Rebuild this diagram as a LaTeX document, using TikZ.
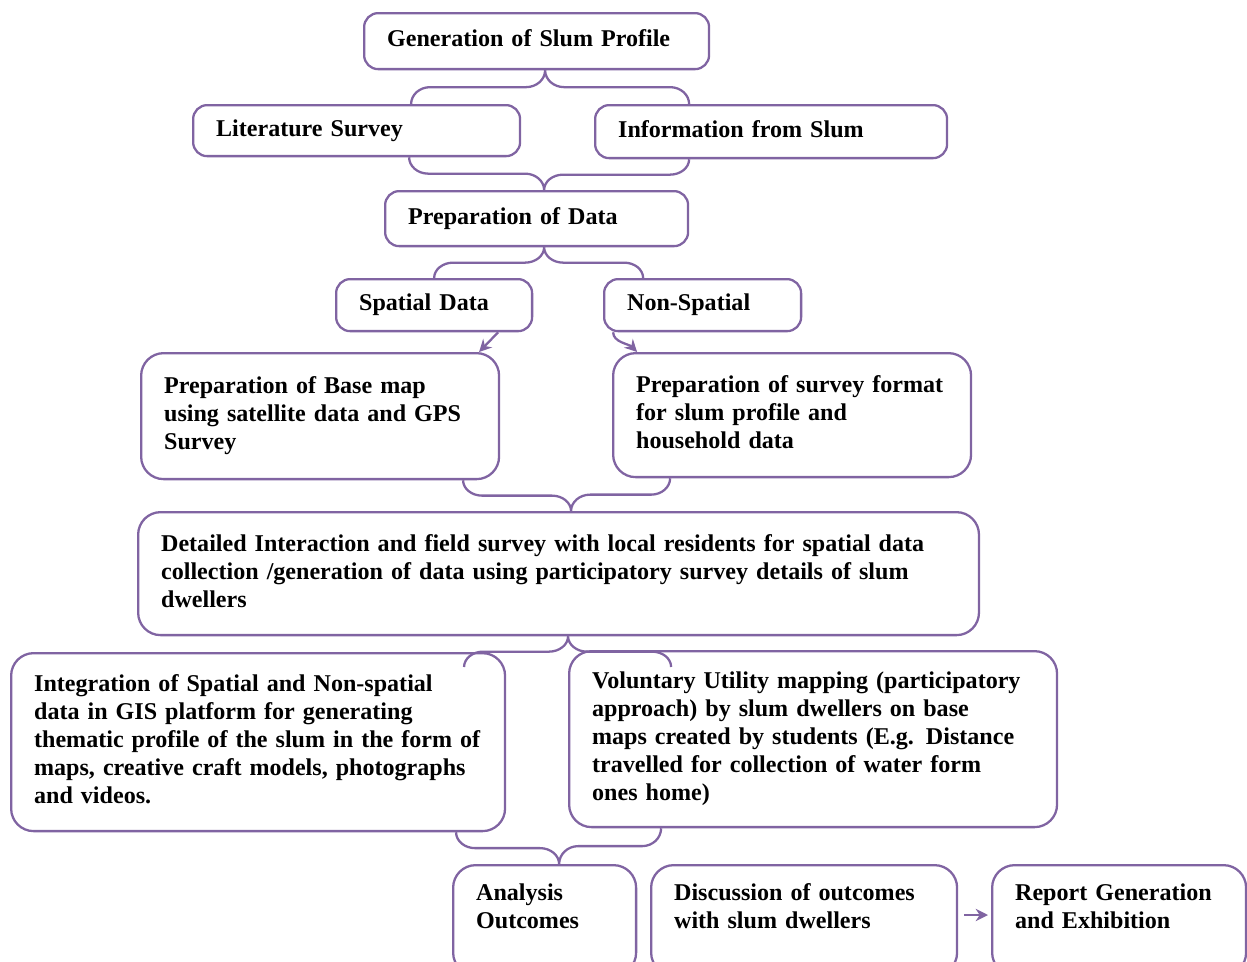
\documentclass[tikz,border=0pt]{standalone}
\usepackage{fontspec}
\setmainfont{Liberation Serif}
\usetikzlibrary{arrows.meta,calc,positioning}

\definecolor{slumpurple}{RGB}{128,100,162}

% lines of a box, never broken by TeX
\newcommand{\lns}[1]{\begin{tabular}{@{}l@{}}#1\end{tabular}}

\tikzset{
  box/.style={draw=slumpurple, line width=1.3pt, rounded corners=0.28cm, anchor=north west,
    align=left, inner xsep=0.46cm, inner ysep=0pt, font=\fontsize{13.7}{16}\selectfont\bfseries},
  tallbox/.style={box, rounded corners=0.45cm},
  brace/.style={draw=slumpurple, line width=1.3pt},
  arr/.style={draw=slumpurple, line width=1.3pt, -{Stealth[length=7pt,width=7pt]}},
  halfbrace/.style={to path={
    ($(\tikztostart)!0.5!(\tikztotarget)$) coordinate (hb)
    (\tikztostart |- hb) coordinate (hb1)
    (\tikztotarget |- hb) coordinate (hb2)
    ($(hb1)!0.38cm!(hb2)$) coordinate (hb3)
    ($(hb2)!0.38cm!(hb1)$) coordinate (hb4)
    (\tikztostart) .. controls ($(\tikztostart)!0.55!(hb1)$) and ($(hb3)!0.55!(hb1)$) .. (hb3)
    -- (hb4) .. controls ($(hb4)!0.55!(hb2)$) and ($(\tikztotarget)!0.55!(hb2)$) .. (\tikztotarget)}},
}

\begin{document}
\begin{tikzpicture}[x=0.02cm, y=-0.02cm]
\useasboundingbox (0,0) rectangle (1247,961);
\clip (0,0) rectangle (1247,961);

% Top part
\node[box, text width=5.98cm, minimum height=1.12cm] (gen) at (363,12) {\lns{Generation of Slum Profile}};
\node[box, text width=5.62cm, minimum height=1.02cm] (lit) at (192,104) {\lns{Literature Survey}};
\node[box, text width=6.12cm, minimum height=1.06cm] (info) at (594,104) {\lns{Information from Slum}};
\node[box, text width=5.14cm, minimum height=1.1cm] (prep) at (384,190) {\lns{Preparation of Data}};
\node[box, text width=3cm, minimum height=1.04cm] (spatial) at (335,278) {\lns{Spatial Data}};
\node[box, text width=3.02cm, minimum height=1.04cm] (nonsp) at (603,278) {\lns{Non-Spatial}};

% Preparation boxes
\node[tallbox, text width=6.24cm, minimum height=2.52cm] (basemap) at (140,352)
  {\lns{Preparation of Base map\\using satellite data and GPS\\Survey}};
\node[tallbox, text width=6.24cm, minimum height=2.48cm] (survey) at (612,352)
  {\lns{Preparation of survey format\\for slum profile and\\household data}};
\node[tallbox, text width=15.9cm, minimum height=2.46cm] (detail) at (137,511)
  {\lns{Detailed Interaction and field survey with local residents for spatial data\\collection /generation of data using participatory survey details of slum\\dwellers}};

% Mapping boxes
\node[tallbox, text width=8.96cm, minimum height=3.56cm] (integ) at (10,652)
  {\lns{Integration of Spatial and Non-spatial\\data in GIS platform for generating\\thematic profile of the slum in the form of\\maps, creative craft models, photographs\\and videos.}};
\node[tallbox, text width=8.84cm, minimum height=3.52cm] (volun) at (568,650)
  {\lns{Voluntary Utility mapping (participatory\\approach) by slum dwellers on base\\maps created by students (E.g. Distance\\travelled for collection of water form\\ones home)}};

% Bottom row
\node[tallbox, text width=2.74cm, minimum height=2.2cm] (analysis) at (452,864) {\lns{Analysis\\Outcomes\\[0.44cm]}};
\node[tallbox, text width=5.2cm, minimum height=2.2cm] (discuss) at (650,864) {\lns{Discussion of outcomes\\with slum dwellers\\[0.44cm]}};
\node[tallbox, text width=4.16cm, minimum height=2.2cm] (report) at (991,864) {\lns{Report Generation\\and Exhibition\\[0.44cm]}};

% Brace ends
\coordinate (gen-b) at ([xshift=0.17cm]gen.south);
\coordinate (lit-t) at ([xshift=1.09cm]lit.north);
\coordinate (info-t) at ([xshift=-1.64cm]info.north);
\coordinate (lit-b) at ([xshift=1.05cm]lit.south);
\coordinate (info-b) at ([xshift=-1.64cm]info.south);
\coordinate (prep-t) at ([xshift=0.15cm]prep.north);
\coordinate (prep-b) at ([xshift=0.15cm]prep.south);
\coordinate (spatial-t) at (spatial.north);
\coordinate (nonsp-t) at ([xshift=-1.19cm]nonsp.north);
\coordinate (basemap-b) at ([xshift=2.86cm]basemap.south);
\coordinate (survey-b) at ([xshift=-2.44cm]survey.south);
\coordinate (detail-t) at ([xshift=0.25cm]detail.north);
\coordinate (detail-b) at ([xshift=0.19cm]detail.south);
\coordinate (integ-t) at ([xshift=4.12cm,yshift=-0.3cm]integ.north);
\coordinate (volun-t) at ([xshift=-2.84cm,yshift=-0.34cm]volun.north);
\coordinate (integ-b) at ([xshift=3.96cm]integ.south);
\coordinate (volun-b) at ([xshift=-3.04cm]volun.south);
\coordinate (analysis-t) at ([xshift=0.29cm]analysis.north);

% Braces
\draw[brace] (gen-b) to[halfbrace] (lit-t) (gen-b) to[halfbrace] (info-t);
\draw[brace] (lit-b) to[halfbrace] (prep-t) (info-b) to[halfbrace] (prep-t);
\draw[brace] (prep-b) to[halfbrace] (spatial-t) (prep-b) to[halfbrace] (nonsp-t);
\draw[brace] (basemap-b) to[halfbrace] (detail-t) (survey-b) to[halfbrace] (detail-t);
\draw[brace] (detail-b) to[halfbrace] (integ-t) (detail-b) to[halfbrace] (volun-t);
\draw[brace] (integ-b) to[halfbrace] (analysis-t) (volun-b) to[halfbrace] (analysis-t);

% Arrows
\draw[arr] ([xshift=1.28cm]spatial.south) -- ([xshift=3.18cm]basemap.north);
\draw[arr] ([xshift=-1.79cm]nonsp.south) .. controls +(0,10) and +(-8,-8) .. ([xshift=-3.1cm]survey.north);
\draw[arr] ([xshift=0.12cm,yshift=-1.02cm]discuss.north east) -- ([xshift=-0.06cm,yshift=-1.02cm]report.north west);
\end{tikzpicture}
\end{document}
